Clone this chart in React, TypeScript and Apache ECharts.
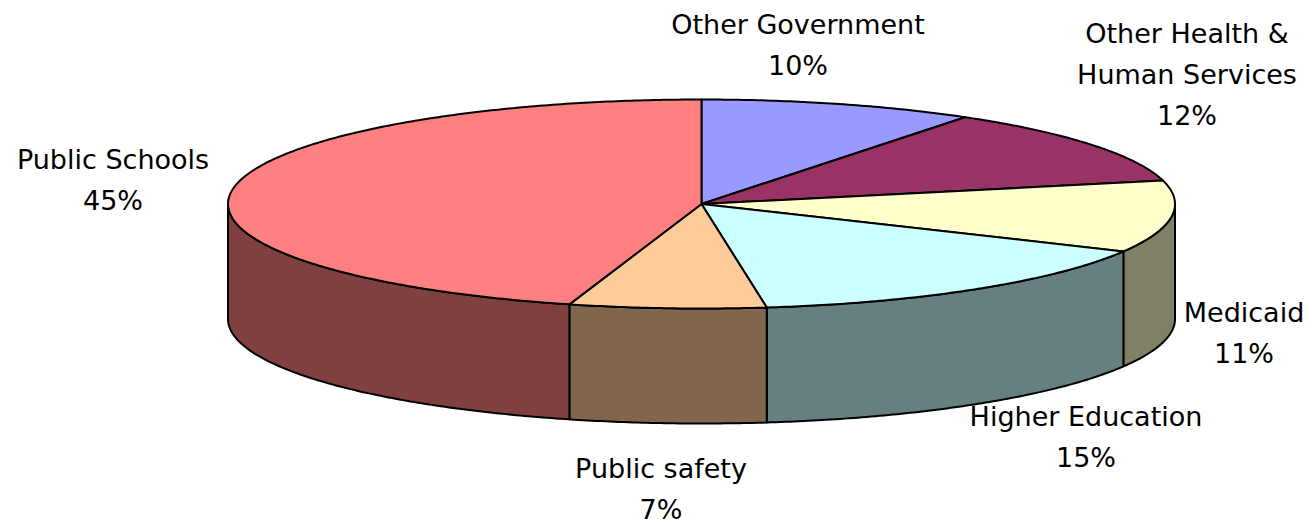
import React, { useEffect, useRef } from "react";
import * as echarts from "echarts";

const categories = ["Other Government", "Other Health &\nHuman Services", "Medicaid", "Higher Education", "Public safety", "Public Schools"];
const printedPercents = ["10%", "12%", "11%", "15%", "7%", "45%"];
// Slice shares
const shares = [9.4, 12, 11.1, 15.3, 6.7, 45.5];
const topColors = ["#9999FF", "#993366", "#FFFFCC", "#CCFFFF", "#FFCC99", "#FF8080"];
const wallColors = ["#4D4D80", "#4D1A33", "#808066", "#668080", "#80664D", "#804040"];

const CX = 701.5, CY = 204, RX = 473.5, RY = 104.5, DEPTH = 115;
const labelAnchors = [
  [798, 11], [1187, 20], [1244, 299], [1086, 403], [661, 455], [113, 146],
];
const LINE_H = 41;

const total = shares.reduce((a, b) => a + b, 0);
const starts = shares.map((_, i) => shares.slice(0, i).reduce((a, b) => a + b, 0));

const rim = (theta: number, dy = 0) => [CX + RX * Math.sin(theta), CY - RY * Math.cos(theta) + dy];
const toAngle = (share: number) => (share / total) * Math.PI * 2;

function arcPoints(a: number, b: number, dy = 0) {
  const n = Math.max(2, Math.ceil((b - a) / 0.01));
  const pts: number[][] = [];
  for (let i = 0; i <= n; i++) pts.push(rim(a + ((b - a) * i) / n, dy));
  return pts;
}

const stroke = { stroke: "#000", lineWidth: 2, lineJoin: "round" as const };

function renderWall(params: any, api: any) {
  const a = Math.max(toAngle(api.value(0)), Math.PI / 2);
  const b = Math.min(toAngle(api.value(0) + api.value(1)), (Math.PI * 3) / 2);
  if (b <= a) return null;
  const points = [...arcPoints(a, b), ...arcPoints(a, b, DEPTH).reverse()];
  return { type: "polygon", shape: { points }, style: { fill: wallColors[params.dataIndex], ...stroke } };
}

function renderTop(params: any, api: any) {
  const a = toAngle(api.value(0));
  const b = toAngle(api.value(0) + api.value(1));
  const points = [[CX, CY], ...arcPoints(a, b)];
  return { type: "polygon", shape: { points }, style: { fill: topColors[params.dataIndex], ...stroke } };
}

export default function App() {
  const ref = useRef<HTMLDivElement>(null);
  useEffect(() => {
    document.body.style.margin = "0";
    const chart = echarts.init(ref.current!, null, { renderer: "svg" });
    const data = shares.map((s, i) => [starts[i], s]);
    const font = { fontFamily: "DejaVu Sans", fontSize: 27, fill: "#000", textAlign: "center" as const, textVerticalAlign: "top" as const };
    const graphics: any[] = [];
    categories.forEach((c, i) => {
      const lines = [...c.split("\n"), printedPercents[i]];
      lines.forEach((line, j) => {
        graphics.push({
          type: "text",
          x: labelAnchors[i][0],
          y: labelAnchors[i][1] + j * LINE_H,
          style: { text: line, ...font },
        });
      });
    });
    chart.setOption({
      animation: false,
      backgroundColor: "#fff",
      graphic: { elements: graphics },
      series: [
        { type: "custom", coordinateSystem: "none", renderItem: renderWall, data, silent: true, z: 1 },
        { type: "custom", coordinateSystem: "none", renderItem: renderTop, data, silent: true, z: 2 },
      ],
    });
    return () => chart.dispose();
  }, []);
  return <div ref={ref} style={{ width: 1311, height: 519 }} />;
}
